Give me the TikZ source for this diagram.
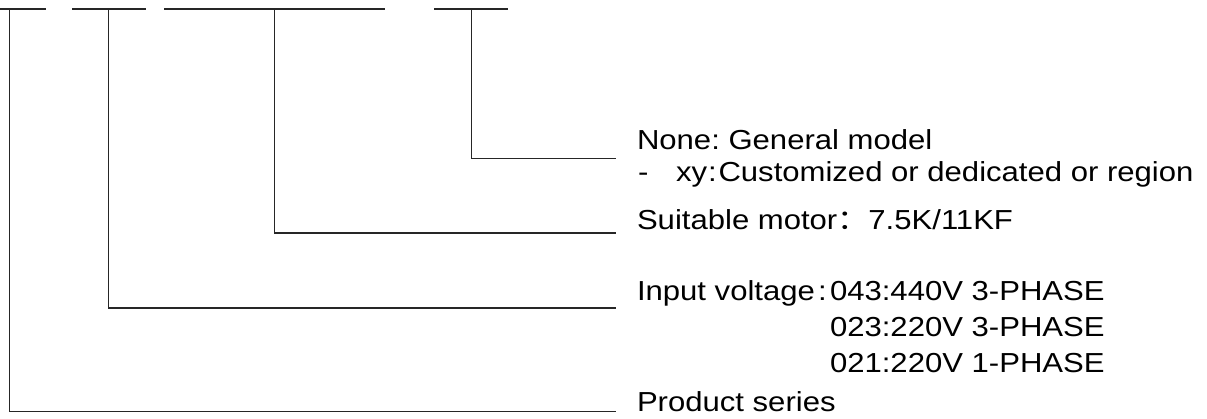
\documentclass[tikz,border=0pt]{standalone}
\usepackage{graphicx}
\usepackage{fontspec}
\setmainfont{Liberation Sans}
\newfontfamily\cjk{Noto Sans CJK SC}
\newcommand{\hsq}[1]{\scalebox{1.13}[1]{#1}}
\begin{document}
\frenchspacing
\begin{tikzpicture}[x=1pt,y=-1pt,
  codeline/.style={draw=black!85,line width=1.3pt},
  leader/.style={draw=black!85,line width=1.3pt},
  lbl/.style={anchor=base west,inner sep=0pt,outer sep=0pt,font=\fontsize{27.5}{32}\selectfont,text=black}]
\useasboundingbox (0,0) rectangle (1207,419);
% code segments
\draw[codeline] (-40,9) -- (46,9);
\draw[codeline] (72,9) -- (146,9);
\draw[codeline] (164,9) -- (385,9);
\draw[codeline] (434,9) -- (508,9);
\coordinate (s1) at (9.3,9);
\coordinate (s2) at (108.8,9);
\coordinate (s3) at (274.7,9);
\coordinate (s4) at (471.3,9);
% leader ends
\coordinate (e4) at (616,158.7);
\coordinate (e3) at (616,233);
\coordinate (e2) at (616,308);
\coordinate (e1) at (616,411.7);
% labels
\node[lbl] (t4a) at (637,150) {\hsq{None: General model}};
\node[lbl] (t4b) at (638,182) {\hsq{-}};
\node[lbl] (t4c) at (676,182) {\hsq{xy}};
\node[lbl] (t4d) at (708,182) {\hsq{:}};
\node[lbl] (t4e) at (718.5,182) {\hsq{Customized or dedicated or region}};
\node[lbl] (t3) at (637,230) {\hsq{Suitable motor{\cjk ：}7.5K/11KF}};
\node[lbl] (t2a) at (637,300.7) {\hsq{Input voltage}};
\node[lbl] (t2b) at (818,300.7) {\hsq{:}};
\node[lbl] (t2c) at (830,300.7) {\hsq{043:440V 3-PHASE}};
\node[lbl] (t2d) at (830,336.7) {\hsq{023:220V 3-PHASE}};
\node[lbl] (t2e) at (830,372.7) {\hsq{021:220V 1-PHASE}};
\node[lbl] (t1) at (637,411.7) {\hsq{Product series}};
% connectors
\draw[leader] (s4) |- (e4);
\draw[leader] (s3) |- (e3);
\draw[leader] (s2) |- (e2);
\draw[leader] (s1) |- (e1);
\end{tikzpicture}
\end{document}
